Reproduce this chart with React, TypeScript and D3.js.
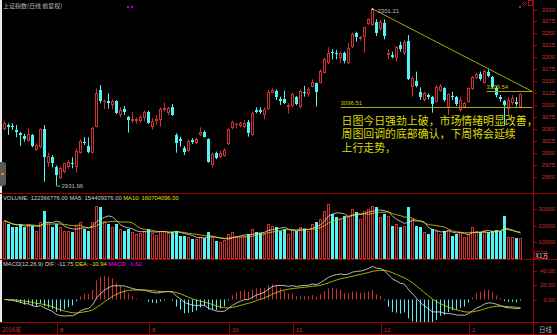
import React from 'react';
import * as d3 from 'd3';

const opens = [3049.6,3058.0,3057.3,3048.2,3041.3,3035.7,3025.9,3037.8,3006.4,3012.0,3049.6,2980.0,2991.1,2971.6,2947.2,2961.2,2970.2,2978.6,2971.6,3000.9,3023.9,3014.8,3000.9,3055.2,3131.8,3106.7,3108.1,3100.5,3108.1,3079.6,3092.1,3074.7,3067.7,3067.0,3067.7,3072.6,3086.5,3055.2,3067.0,3069.1,3090.0,3084.5,3097.0,3037.8,3028.7,3009.9,3005.0,3027.3,3021.7,3037.8,3044.7,3028.7,2975.1,3000.9,2992.5,2993.9,3019.0,3051.7,3058.0,3056.6,3055.2,3065.6,3037.8,3090.0,3090.0,3079.6,3091.4,3126.2,3130.4,3113.7,3112.3,3095.6,3098.4,3116.5,3095.6,3128.3,3123.4,3138.8,3145.7,3147.1,3168.0,3187.5,3211.9,3209.8,3198.0,3208.4,3187.5,3221.0,3250.2,3237.7,3241.8,3269.7,3267.6,3274.6,3258.6,3272.5,3204.9,3204.9,3198.0,3225.8,3208.4,3234.9,3138.8,3151.3,3128.3,3110.9,3122.0,3117.9,3107.4,3130.4,3135.3,3095.6,3119.3,3116.5,3090.0,3097.0,3107.4,3133.2,3156.2,3165.2,3147.1,3170.1,3158.3,3135.3,3116.5,3108.1,3092.0,3104.0,3107.4,3095.6];
const highs = [3067.7,3062.2,3062.2,3058.7,3044.7,3039.9,3051.7,3039.9,3020.4,3051.7,3058.7,3000.9,2996.0,2974.4,2971.6,2980.0,2985.6,2991.1,3009.9,3028.7,3032.9,3032.9,3055.2,3135.3,3142.3,3112.3,3124.9,3112.3,3110.9,3095.6,3098.4,3077.5,3086.5,3074.7,3079.6,3088.6,3088.6,3072.6,3079.6,3095.6,3105.3,3097.0,3102.6,3041.3,3034.3,3014.8,3028.7,3030.8,3032.9,3053.8,3046.8,3030.8,3000.9,3003.0,3005.0,3009.9,3051.7,3067.7,3063.6,3065.6,3069.1,3069.1,3086.5,3095.6,3095.6,3095.6,3131.8,3135.3,3133.2,3117.9,3130.4,3104.0,3126.2,3119.3,3133.2,3140.2,3137.4,3154.1,3147.1,3175.0,3200.1,3221.0,3216.8,3215.4,3211.9,3211.9,3229.3,3251.6,3253.7,3244.6,3264.1,3281.5,3301.21,3279.5,3278.1,3279.5,3216.8,3211.9,3223.7,3232.8,3236.3,3246.7,3159.7,3170.1,3137.4,3128.3,3124.8,3119.3,3142.3,3144.3,3137.4,3124.8,3128.3,3119.3,3117.9,3107.4,3137.4,3161.1,3168.0,3170.1,3175.0,3175.0,3161.1,3140.2,3121.4,3111.0,3116.0,3121.4,3116.5,3124.8];
const lows = [3046.8,3037.8,3048.2,3032.9,3014.8,3023.9,3023.9,3012.0,3005.1,3009.9,2940.3,2971.6,2970.2,2931.96,2945.2,2957.7,2967.4,2968.1,2959.1,2999.5,3016.9,2999.5,2999.5,3053.8,3104.0,3091.4,3092.8,3091.4,3081.7,3074.7,3079.6,3042.7,3063.6,3060.8,3063.6,3065.6,3060.8,3049.6,3058.7,3055.2,3086.5,3079.6,3077.5,3000.9,3013.4,2996.0,3002.9,3019.0,3019.0,3035.7,3032.9,2980.0,2970.2,2986.9,2989.7,2992.5,3016.9,3049.6,3051.7,3053.8,3051.7,3034.3,3035.7,3083.1,3081.7,3070.5,3090.0,3124.9,3110.9,3100.5,3102.6,3083.0,3095.6,3099.8,3093.5,3117.9,3117.9,3137.4,3097.0,3145.7,3166.6,3186.1,3195.9,3195.9,3187.5,3187.5,3186.1,3218.9,3232.8,3234.9,3209.8,3267.6,3265.5,3244.6,3255.8,3237.7,3195.9,3198.0,3191.0,3211.9,3204.9,3152.7,3117.9,3137.4,3110.9,3107.4,3112.3,3084.4,3105.3,3128.3,3107.4,3079.6,3110.9,3098.4,3086.5,3093.5,3105.3,3131.8,3154.1,3151.3,3145.7,3158.3,3135.3,3116.5,3107.4,3058.0,3080.0,3100.5,3097.0,3093.5];
const closes = [3063.6,3055.2,3055.2,3044.7,3037.8,3028.7,3039.9,3014.8,3016.9,3049.6,2992.5,2993.9,2980.0,2954.2,2968.1,2978.6,2982.1,2976.5,3005.1,3025.9,3020.4,3003.0,3051.7,3126.2,3109.5,3109.5,3105.3,3109.5,3084.5,3090.0,3085.8,3069.1,3070.5,3070.5,3076.1,3085.8,3063.6,3067.7,3070.5,3091.4,3093.5,3093.5,3079.6,3021.7,3025.9,3003.0,3025.9,3023.8,3028.7,3044.0,3034.3,2982.1,2998.1,2989.0,3000.9,3006.4,3049.6,3065.6,3060.1,3062.2,3063.6,3042.6,3084.4,3086.5,3086.5,3091.4,3128.3,3131.8,3117.9,3109.5,3105.3,3100.5,3123.4,3102.6,3130.4,3124.8,3133.2,3149.2,3128.3,3172.2,3195.9,3209.8,3208.4,3207.0,3208.4,3193.1,3218.9,3248.8,3241.8,3241.8,3262.7,3279.5,3300.3,3250.2,3274.6,3244.6,3208.4,3200.0,3222.4,3216.8,3232.8,3154.1,3156.2,3140.2,3117.9,3124.8,3117.9,3102.6,3138.8,3140.2,3110.9,3123.4,3116.5,3102.6,3110.9,3105.3,3135.3,3158.3,3165.2,3154.1,3172.2,3161.1,3137.4,3121.4,3113.7,3100.5,3110.0,3114.4,3102.6,3123.4];
const volumes = [23000,21000,19000,19000,21000,19000,21000,20000,17000,22000,29000,22000,19000,21000,19000,17000,17000,16000,20000,22000,18000,17000,22000,32000,31000,23000,21000,19000,21000,18000,17000,18000,16000,15000,15500,17000,18000,15500,14500,17000,17000,15500,16000,17000,13500,14000,13000,12000,12000,13000,12500,16000,13000,10500,10000,11000,15000,16000,14000,13000,13500,15000,18000,16000,15500,15000,21000,20000,19000,17000,18000,15000,17500,16500,19000,18000,17000,21000,22000,24000,29000,33000,27000,25000,24000,26000,25000,30000,28000,24000,29000,30000,32000,31000,25000,27000,26000,20000,21000,19000,20000,31000,24000,20000,19000,16000,15000,18000,17000,15000,16500,17500,14000,15000,16000,13000,15000,19000,17000,16000,17000,16000,16500,17500,16663,26000,13300,13000,12500,12237];

const priceTicks = [3300,3275,3250,3225,3200,3175,3150,3125,3100,3075,3050,3025,3000,2975,2950];
const volTicks = [30000,20000,10000];
const macdTicks = [40,20,0];
const monthLabels = ['8','9','10','11','12','1'];
const monthIndex = [13,36,56,72,94,116];

const highMark = { i: 92, v: 3301.21, label: '3301.21' };
const lowMark = { i: 13, v: 2931.96, label: '2931.96' };
const trendLine = [{ i: 92, v: 3301.21 }, { i: 132, v: 3128.5 }];
const supportLine = { from: 84, to: 132, v: 3096.51, label: '3096.51' };
const resistLine = { from: 120.5, to: 132, v: 3129.54, label: '3129.54' };

const noteLines = ['日图今日强劲上破，市场情绪明显改善，', '周图回调的底部确认，下周将会延续', '上行走势，'];

const RED = '#cc3030';
const CYAN = '#50f4f4';
const AX = '#9a0000';
const AXT = '#c83030';
const YEL = '#a8a800';
const NUMFONT = '"Liberation Sans", Arial, sans-serif';
const CJK = '"Noto Sans CJK SC", sans-serif';

function ema(arr: number[], n: number): number[] {
  const k = 2 / (n + 1);
  const out: number[] = [];
  arr.forEach((v, i) => out.push(i === 0 ? v : out[i - 1] + k * (v - out[i - 1])));
  return out;
}

export default function App() {
  const W = 557, H = 335;
  const N = closes.length;
  const x = d3.scaleLinear().domain([0, N - 1]).range([4.5, 4.5 + 4 * (N - 1)]);
  const yP = d3.scaleLinear().domain([2950, 3300]).range([177, 9.5]);
  const yV = d3.scaleLinear().domain([0, 30000]).range([258.7, 209]);
  const yM = d3.scaleLinear().domain([0, 40]).range([299.5, 271]);

  const ma = (n: number) => volumes.map((_, i) => d3.mean(volumes.slice(Math.max(0, i - n + 1), i + 1)) as number);
  const ma5 = ma(5), ma10 = ma(10);
  const e12 = ema(closes, 12), e26 = ema(closes, 26);
  const dif = closes.map((_, i) => e12[i] - e26[i]);
  const dea = ema(dif, 9);
  const hist = dif.map((d, i) => 2 * (d - dea[i]));

  const vLine = d3.line<number>().x((_, i) => x(i)).y(d => yV(d));
  const mLine = d3.line<number>().x((_, i) => x(i)).y(d => yM(d));

  const candles = closes.map((c, i) => {
    const o = opens[i];
    const px = Math.round(x(i) - 0.5);
    const up = c >= o;
    const yt = Math.round(yP(Math.max(o, c)));
    const yb = Math.round(yP(Math.min(o, c)));
    const yh = yP(highs[i]);
    const yl = yP(lows[i]);
    const col = up ? RED : CYAN;
    const bh = Math.max(yb - yt, 1);
    return (
      <g key={i}>
        <line x1={px + 0.5} x2={px + 0.5} y1={yh} y2={yt} stroke={col} strokeWidth={1} />
        <line x1={px + 0.5} x2={px + 0.5} y1={yt + bh} y2={yl} stroke={col} strokeWidth={1} />
        {up && bh > 1 ? (
          <rect x={px - 0.5} y={yt + 0.5} width={2} height={bh - 1} fill="#000" stroke={col} strokeWidth={1} />
        ) : (
          <rect x={px - 1} y={yt} width={3} height={bh} fill={col} />
        )}
      </g>
    );
  });

  const volBars = volumes.map((v, i) => {
    const up = closes[i] >= opens[i];
    const px = Math.round(x(i) - 0.5);
    const yt = Math.round(yV(v));
    const yb = Math.round(yV(0));
    return up ? (
      <rect key={i} x={px - 0.5} y={yt + 0.5} width={2} height={yb - yt - 1} fill="none" stroke={RED} strokeWidth={1} />
    ) : (
      <rect key={i} x={px - 1} y={yt} width={3} height={yb - yt} fill={CYAN} />
    );
  });

  const histBars = hist.map((h, i) => {
    const px = Math.round(x(i) - 0.5) + 0.5;
    return <line key={i} x1={px} x2={px} y1={yM(0)} y2={yM(h)} stroke={h >= 0 ? RED : CYAN} strokeWidth={1} />;
  });

  return (
    <svg width={W} height={H} style={{ position: 'absolute', left: 0, top: 0, background: '#000' }}>
      <defs>
        <clipPath id="pc"><rect x={0} y={0} width={533} height={193} /></clipPath>
        <clipPath id="vc"><rect x={0} y={204} width={533} height={55} /></clipPath>
        <clipPath id="mc"><rect x={0} y={260} width={533} height={62} /></clipPath>
      </defs>
      <rect x={0} y={0} width={W} height={H} fill="#000" />
      <rect x={0} y={0} width={2} height={322} fill="#e8e8e8" />

      <text x={3} y={8} fontSize={6} fill="#b8b8b8" fontFamily={CJK}>上证指数(日线 前复权)</text>
      <rect x={127} y={6} width={2} height={2} fill="#c000c0" />
      <rect x={131} y={6} width={2} height={2} fill="#c000c0" />
      <rect x={519} y={6} width={2} height={2} fill="#c000c0" />
      <path d="M524.5,1.5 L526.5,3.5 L524.5,5.5 L522.5,3.5 Z" fill="none" stroke="#c02020" strokeWidth={0.8} />
      <rect x={528.5} y={0.5} width={4} height={5} fill="none" stroke="#c02020" strokeWidth={0.8} />

      <rect x={-4} y={162} width={10} height={24} rx={3} fill="#5a5a5a" />
      <rect x={1} y={173} width={3} height={2} fill="#e09020" />

      <g clipPath="url(#pc)">{candles}</g>
      <line x1={x(trendLine[0].i)} y1={yP(trendLine[0].v)} x2={x(trendLine[1].i)} y2={yP(trendLine[1].v)} stroke={YEL} strokeWidth={1} />
      <line x1={x(supportLine.from)} x2={x(supportLine.to)} y1={Math.round(yP(supportLine.v)) + 0.5} y2={Math.round(yP(supportLine.v)) + 0.5} stroke={YEL} strokeWidth={1} />
      <text x={x(supportLine.from)} y={yP(supportLine.v) - 2} fontSize={6} fill="#c8c800" fontFamily={NUMFONT}>{supportLine.label}</text>
      <line x1={x(resistLine.from)} x2={x(resistLine.to)} y1={Math.round(yP(resistLine.v)) + 0.5} y2={Math.round(yP(resistLine.v)) + 0.5} stroke={YEL} strokeWidth={1} />
      <text x={x(resistLine.from)} y={yP(resistLine.v) - 2} fontSize={6} fill="#c8c800" fontFamily={NUMFONT}>{resistLine.label}</text>
      <circle cx={x(highMark.i)} cy={yP(highMark.v)} r={1} fill="#d0d0d0" />
      <text x={x(highMark.i) + 5} y={yP(highMark.v) + 4} fontSize={6} fill="#b8b8b8" fontFamily={NUMFONT}>{highMark.label}</text>
      <line x1={x(lowMark.i)} x2={x(lowMark.i) + 4} y1={yP(lowMark.v) + 0.5} y2={yP(lowMark.v) + 0.5} stroke="#b8b8b8" strokeWidth={0.8} />
      <text x={x(lowMark.i) + 5} y={yP(lowMark.v) + 2.5} fontSize={6} fill="#b8b8b8" fontFamily={NUMFONT}>{lowMark.label}</text>

      {noteLines.map((t, k) => (
        <text key={k} x={341.5} y={124.5 + k * 13.8} fontSize={10.9} fill="#dcdc00" fontFamily={CJK}>{t}</text>
      ))}

      <text x={3} y={200} fontSize={5.8} fontFamily={NUMFONT} fill="#d0d0d0">
        VOLUME: 122366776.00 MA5: 154409376.00 <tspan fill="#e0e000">MA10: 160704096.00</tspan>
      </text>
      <g clipPath="url(#vc)">
        {volBars}
        <path d={vLine(ma5) || ''} fill="none" stroke="#e0e0e0" strokeWidth={0.8} />
        <path d={vLine(ma10) || ''} fill="none" stroke="#d8d800" strokeWidth={0.8} />
      </g>

      <text x={3} y={266} fontSize={5.8} fontFamily={NUMFONT} fill="#d0d0d0">
        MACD(12,26,9) DIF: -11.75 <tspan fill="#e0e000">DEA: -10.94</tspan> <tspan fill="#ff00ff">MACD: -1.62</tspan>
      </text>
      <g clipPath="url(#mc)">
        {histBars}
        <path d={mLine(dif) || ''} fill="none" stroke="#e8e8e8" strokeWidth={0.8} />
        <path d={mLine(dea) || ''} fill="none" stroke="#d8d800" strokeWidth={0.8} />
      </g>

      <line x1={0} x2={W} y1={193.5} y2={193.5} stroke={AX} />
      <line x1={0} x2={W} y1={259.5} y2={259.5} stroke={AX} />
      <line x1={0} x2={W} y1={322.5} y2={322.5} stroke={AX} />
      <line x1={0} x2={W} y1={334.5} y2={334.5} stroke={AX} />
      <line x1={533.5} x2={533.5} y1={0} y2={H} stroke={AX} />

      {priceTicks.map(t => (
        <g key={t}>
          <line x1={534} x2={537} y1={Math.round(yP(t)) + 0.5} y2={Math.round(yP(t)) + 0.5} stroke={AX} />
          <text x={555} y={yP(t) + 2} fontSize={6} textAnchor="end" fill={AXT} fontFamily={NUMFONT}>{t}</text>
        </g>
      ))}
      {volTicks.map(t => (
        <g key={t}>
          <line x1={534} x2={537} y1={Math.round(yV(t)) + 0.5} y2={Math.round(yV(t)) + 0.5} stroke={AX} />
          <text x={555} y={yV(t) + 2} fontSize={6} textAnchor="end" fill={AXT} fontFamily={NUMFONT}>{t}</text>
        </g>
      ))}
      <rect x={534.5} y={251.5} width={12} height={7} fill="none" stroke={AX} />
      <text x={535.5} y={257.5} fontSize={6} fill="#d0d0d0" fontFamily={CJK}>X1万</text>
      {macdTicks.map(t => (
        <g key={t}>
          <line x1={534} x2={537} y1={Math.round(yM(t)) + 0.5} y2={Math.round(yM(t)) + 0.5} stroke={AX} />
          <text x={555} y={yM(t) + 2} fontSize={6} textAnchor="end" fill={AXT} fontFamily={NUMFONT}>{t.toFixed(2)}</text>
        </g>
      ))}

      <text x={2} y={331.5} fontSize={6} fill={AXT} fontFamily={CJK}>2016年</text>
      {monthIndex.map((mi, k) => (
        <g key={k}>
          <line x1={Math.round(x(mi)) + 0.5} x2={Math.round(x(mi)) + 0.5} y1={323} y2={334} stroke={AX} />
          <text x={Math.round(x(mi)) + 3} y={331.5} fontSize={6} fill={AXT} fontFamily={NUMFONT}>{monthLabels[k]}</text>
        </g>
      ))}
      <text x={539} y={331.5} fontSize={6.5} fill="#b0b0b0" fontFamily={CJK}>日线</text>
    </svg>
  );
}
